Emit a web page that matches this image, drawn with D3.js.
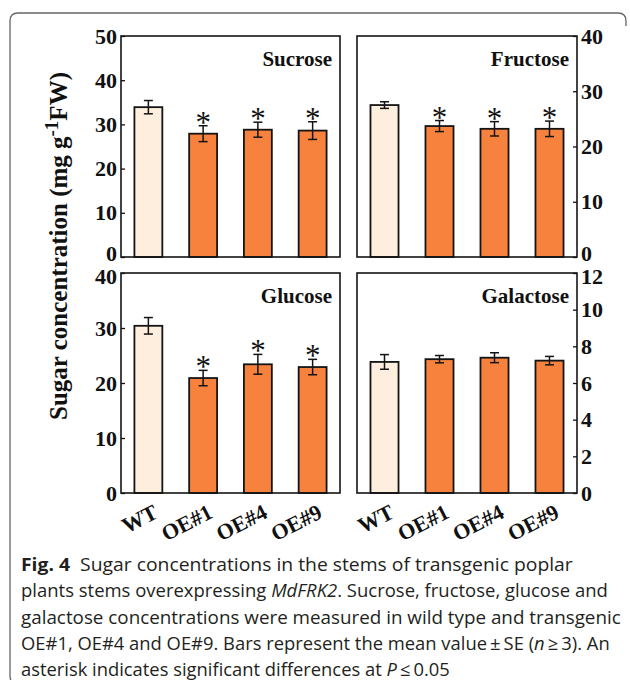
<!DOCTYPE html>
<html>
<head>
<meta charset="utf-8">
<script src="https://cdn.jsdelivr.net/npm/d3@7"></script>
<style>
  body { margin: 0; background: #fff; }
</style>
</head>
<body>
<script>
// data
const groups = ["WT", "OE#1", "OE#4", "OE#9"];

const sucrose     = [33.9, 27.9, 28.8, 28.6];
const sucroseSE   = [1.5, 1.8, 1.7, 2.0];
const sucroseSig  = [false, true, true, true];

const fructose    = [27.5, 23.7, 23.2, 23.2];
const fructoseSE  = [0.6, 1.0, 1.3, 1.4];
const fructoseSig = [false, true, true, true];

const glucose     = [30.4, 20.9, 23.4, 22.9];
const glucoseSE   = [1.5, 1.4, 1.8, 1.4];
const glucoseSig  = [false, true, true, true];

const galactose    = [7.15, 7.3, 7.38, 7.22];
const galactoseSE  = [0.4, 0.2, 0.27, 0.23];
const galactoseSig = [false, false, false, false];

const yTitle = "Sugar concentration (mg g";
const caption = [
  [["Fig. 4", "b"], ["  Sugar concentrations in the stems of transgenic poplar", ""]],
  [["plants stems overexpressing ", ""], ["MdFRK2", "i"], [". Sucrose, fructose, glucose and", ""]],
  [["galactose concentrations were measured in wild type and transgenic", ""]],
  [["OE#1, OE#4 and OE#9. Bars represent the mean value\u2009\u00b1\u2009SE (", ""], ["n", "i"], ["\u2009\u2265\u20093). An", ""]],
  [["asterisk indicates significant differences at ", ""], ["P", "i"], ["\u2009\u2264\u20090.05", ""]]
];
const captionWidths = [552, 587, 600, 589, 429];

const width = 630, height = 680;
const serif = "'Liberation Serif', 'Times New Roman', serif";

const panels = [
  {name: "Sucrose",   values: sucrose,   se: sucroseSE,   sig: sucroseSig,   max: 50, step: 10, x0: 121, x1: 340, y0: 36,  y1: 257, side: "left"},
  {name: "Fructose",  values: fructose,  se: fructoseSE,  sig: fructoseSig,  max: 40, step: 10, x0: 357, x1: 577, y0: 36,  y1: 257, side: "right"},
  {name: "Glucose",   values: glucose,   se: glucoseSE,   sig: glucoseSig,   max: 40, step: 10, x0: 121, x1: 340, y0: 273, y1: 493, side: "left"},
  {name: "Galactose", values: galactose, se: galactoseSE, sig: galactoseSig, max: 12, step: 2,  x0: 357, x1: 577, y0: 273, y1: 493, side: "right"}
];

const svg = d3.select("body").append("svg")
    .attr("width", width)
    .attr("height", height);

// rounded outer frame, cropped at the right and bottom
svg.append("path")
    .attr("d", "M18,684 Q10,684 10,676 L10,21 Q10,13 18,13 L618,13 Q626,13 626,21 L626,26")
    .attr("fill", "none")
    .attr("stroke", "#666")
    .attr("stroke-width", 1.3);

panels.forEach((p, pi) => {
  const x = d3.scaleBand()
      .domain(groups)
      .range([p.x0, p.x1])
      .paddingInner(0.49)
      .paddingOuter(0.245);
  const y = d3.scaleLinear()
      .domain([0, p.max])
      .range([p.y1, p.y0]);

  const g = svg.append("g");
  const top = pi < 2;

  const axis = (p.side === "left" ? d3.axisLeft(y) : d3.axisRight(y))
      .tickValues(d3.range(0, p.max + p.step / 2, p.step))
      .tickSize(-4)
      .tickPadding(4)
      .tickFormat(d3.format("d"));

  g.append("g")
      .attr("transform", `translate(${p.side === "left" ? p.x0 : p.x1},0)`)
      .call(axis)
      .call(a => a.select(".domain").remove())
      .call(a => a.selectAll("line").attr("stroke", "#111").attr("stroke-width", 1.3))
      .call(a => a.selectAll("text")
          .attr("font-family", serif)
          .attr("font-weight", "bold")
          .attr("font-size", 22)
          .attr("fill", "#111")
          // the 0 of the upper panels and the top label of the lower ones sit tight together
          .attr("y", d => top && d === 0 ? -4 : (!top && d === p.max ? 3 : 0)))
      .attr("font-family", null)
      .attr("font-size", null);

  const rows = groups.map((k, i) => ({k, v: p.values[i], se: p.se[i], sig: p.sig[i]}));

  g.selectAll("rect.bar")
    .data(rows)
    .join("rect")
      .attr("class", "bar")
      .attr("x", d => x(d.k))
      .attr("y", d => y(d.v))
      .attr("width", x.bandwidth())
      .attr("height", d => y(0) - y(d.v))
      .attr("fill", (d, i) => i === 0 ? "#fdeedd" : "#f7823e")
      .attr("stroke", "#141414")
      .attr("stroke-width", 1.8);

  const cx = d => x(d.k) + x.bandwidth() / 2;

  const err = g.selectAll("g.err")
    .data(rows)
    .join("g")
      .attr("class", "err")
      .attr("stroke", "#141414")
      .attr("stroke-width", 1.5);
  err.append("line")
      .attr("x1", cx).attr("x2", cx)
      .attr("y1", d => y(d.v - d.se)).attr("y2", d => y(d.v + d.se));
  err.append("line")
      .attr("x1", d => cx(d) - 4.5).attr("x2", d => cx(d) + 4.5)
      .attr("y1", d => y(d.v + d.se)).attr("y2", d => y(d.v + d.se));
  err.append("line")
      .attr("x1", d => cx(d) - 4.5).attr("x2", d => cx(d) + 4.5)
      .attr("y1", d => y(d.v - d.se)).attr("y2", d => y(d.v - d.se));

  g.selectAll("text.star")
    .data(rows.filter(d => d.sig))
    .join("text")
      .attr("class", "star")
      .attr("x", cx)
      .attr("y", d => y(d.v + d.se) + 7)
      .attr("text-anchor", "middle")
      .attr("font-family", serif)
      .attr("font-size", 31)
      .attr("fill", "#111")
      .text("*");

  // frame drawn last so it sits over the bars' bases
  g.append("rect")
      .attr("x", p.x0)
      .attr("y", p.y0)
      .attr("width", p.x1 - p.x0)
      .attr("height", p.y1 - p.y0)
      .attr("fill", "none")
      .attr("stroke", "#141414")
      .attr("stroke-width", 1.6);

  g.append("text")
      .attr("x", p.x1 - 8)
      .attr("y", p.y0 + 30)
      .attr("text-anchor", "end")
      .attr("font-family", serif)
      .attr("font-weight", "bold")
      .attr("font-size", 21)
      .attr("fill", "#111")
      .text(p.name);

  if (!top) {
    g.selectAll("text.xl")
      .data(groups)
      .join("text")
        .attr("class", "xl")
        .attr("transform", k => `translate(${x(k) + x.bandwidth() / 2 + 11},${p.y1 + 24}) rotate(-27)`)
        .attr("text-anchor", "end")
        .attr("font-family", serif)
        .attr("font-weight", "bold")
        .attr("font-size", 22)
        .attr("fill", "#111")
        .text(k => k);
  }
});

// y-axis title
const yt = svg.append("text")
    .attr("transform", "translate(67,246) rotate(-90)")
    .attr("text-anchor", "middle")
    .attr("font-family", serif)
    .attr("font-weight", "bold")
    .attr("font-size", 25)
    .attr("fill", "#111");
yt.append("tspan").text(yTitle);
yt.append("tspan").attr("dy", -9).attr("font-size", 19).text("-1");
yt.append("tspan").attr("dy", 9).text("FW)");

// caption
caption.forEach((line, i) => {
  const t = svg.append("text")
      .attr("font-family", "'Open Sans', 'Noto Sans', sans-serif")
      .attr("font-size", 18)
      .attr("fill", "#231f20")
      .attr("xml:space", "preserve");
  line.forEach(([s, st]) => {
    t.append("tspan")
        .attr("font-weight", st === "b" ? "bold" : null)
        .attr("font-style", st === "i" ? "italic" : null)
        .text(s);
  });
  const L = t.node().getComputedTextLength();
  t.attr("transform", `translate(21,${571 + i * 26.3}) scale(${captionWidths[i] / L},1)`);
});
</script>
</body>
</html>
